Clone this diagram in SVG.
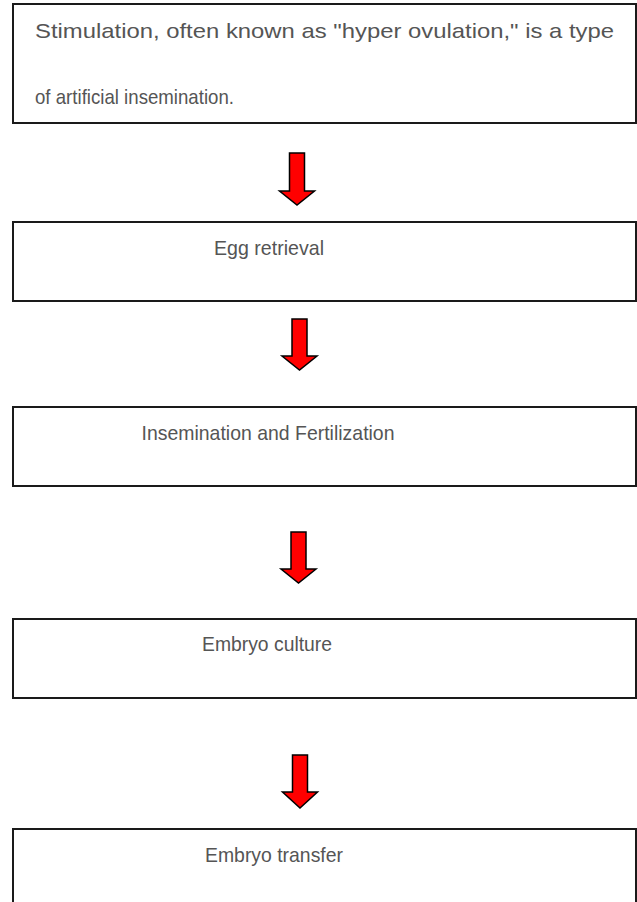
<svg xmlns="http://www.w3.org/2000/svg" width="637" height="902" viewBox="0 0 637 902">
<style>
.box{fill:#fff;stroke:#1a1a1a;stroke-width:2}
.t{font-family:"Liberation Sans",Arial,sans-serif;font-size:21px;fill:#555}
.arrow{fill:#f00;stroke:#000;stroke-width:1.5;stroke-linejoin:miter}
</style>
<rect width="637" height="902" fill="#fff"/>
<g id="node1">
<rect class="box" x="13" y="4" width="623" height="119"/>
<text class="t" x="35" y="38" textLength="579" lengthAdjust="spacingAndGlyphs">Stimulation, often known as "hyper ovulation," is a type</text>
<text class="t" x="35" y="104" textLength="199" lengthAdjust="spacingAndGlyphs">of artificial insemination.</text>
</g>
<g id="node2">
<rect class="box" x="13" y="222" width="623" height="79"/>
<text class="t" x="269" y="255" text-anchor="middle" textLength="110" lengthAdjust="spacingAndGlyphs">Egg retrieval</text>
</g>
<g id="node3">
<rect class="box" x="13" y="407" width="623" height="79"/>
<text class="t" x="268" y="440" text-anchor="middle" textLength="253" lengthAdjust="spacingAndGlyphs">Insemination and Fertilization</text>
</g>
<g id="node4">
<rect class="box" x="13" y="619" width="623" height="79"/>
<text class="t" x="267" y="651" text-anchor="middle" textLength="130" lengthAdjust="spacingAndGlyphs">Embryo culture</text>
</g>
<g id="node5">
<rect class="box" x="13" y="829" width="623" height="80"/>
<text class="t" x="274" y="862" text-anchor="middle" textLength="138" lengthAdjust="spacingAndGlyphs">Embryo transfer</text>
</g>
<g id="connectors">
<polygon class="arrow" points="289.5,153 304.5,153 304.5,191 314.5,191 297,205 279.5,191 289.5,191"/>
<polygon class="arrow" points="292,319 307,319 307,356 317,356 299.5,370 282,356 292,356"/>
<polygon class="arrow" points="291,532 306,532 306,569 316,569 298.5,583 281,569 291,569"/>
<polygon class="arrow" points="292.5,755 307.5,755 307.5,792 317.5,792 300,808 282.5,792 292.5,792"/>
</g>
</svg>
